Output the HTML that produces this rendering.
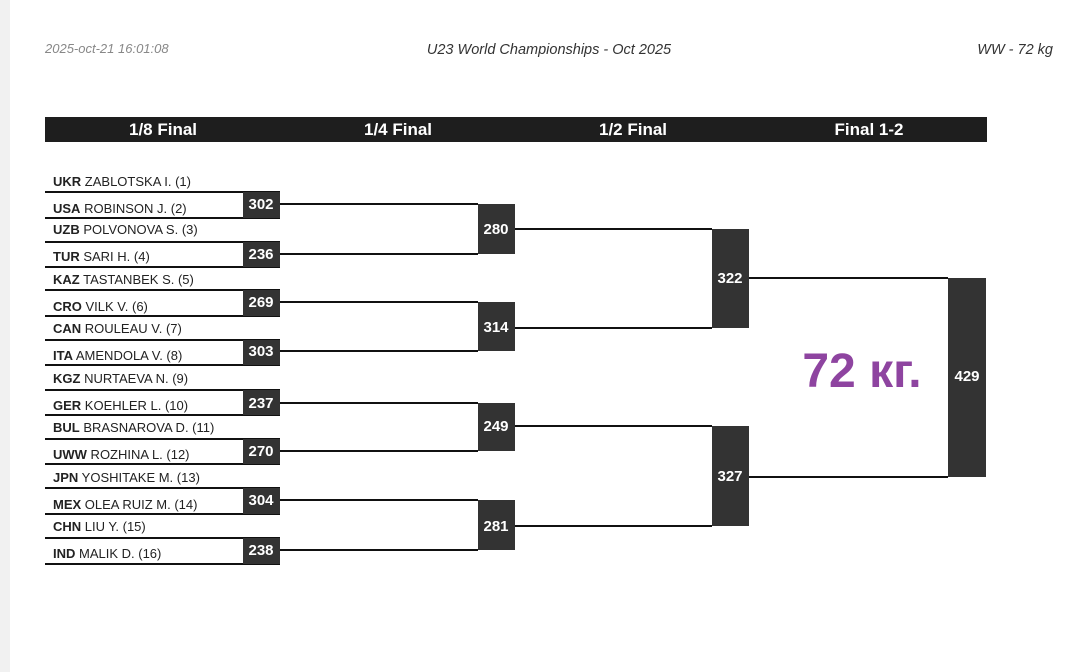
<!DOCTYPE html>
<html><head><meta charset="utf-8"><style>
html,body{margin:0;padding:0;background:#fff;}
svg{display:block;}
text{font-family:"Liberation Sans",sans-serif;}
</style></head><body>
<svg width="1079" height="672" viewBox="0 0 1079 672" xmlns="http://www.w3.org/2000/svg">
<rect x="0" y="0" width="1079" height="672" fill="#fff"/>
<rect x="0" y="0" width="10" height="672" fill="#f1f1f1"/>
<text x="45" y="53" font-size="13" font-style="italic" fill="#888">2025-oct-21 16:01:08</text>
<text x="549" y="54" font-size="14.5" font-style="italic" fill="#333" text-anchor="middle">U23 World Championships - Oct 2025</text>
<text x="1053" y="54" font-size="14.5" font-style="italic" fill="#333" text-anchor="end">WW - 72 kg</text>
<rect x="45" y="117" width="942" height="25" fill="#1e1e1e"/>
<g font-size="17" font-weight="bold" fill="#fff" text-anchor="middle">
<text x="163" y="135">1/8 Final</text><text x="398" y="135">1/4 Final</text><text x="633" y="135">1/2 Final</text><text x="869" y="135">Final 1-2</text>
</g>
<g font-size="13" fill="#222">
<text x="53" y="186"><tspan font-weight="bold">UKR</tspan> ZABLOTSKA I. (1)</text>
<text x="53" y="213"><tspan font-weight="bold">USA</tspan> ROBINSON J. (2)</text>
<text x="53" y="234"><tspan font-weight="bold">UZB</tspan> POLVONOVA S. (3)</text>
<text x="53" y="261"><tspan font-weight="bold">TUR</tspan> SARI H. (4)</text>
<text x="53" y="284"><tspan font-weight="bold">KAZ</tspan> TASTANBEK S. (5)</text>
<text x="53" y="311"><tspan font-weight="bold">CRO</tspan> VILK V. (6)</text>
<text x="53" y="333"><tspan font-weight="bold">CAN</tspan> ROULEAU V. (7)</text>
<text x="53" y="360"><tspan font-weight="bold">ITA</tspan> AMENDOLA V. (8)</text>
<text x="53" y="383"><tspan font-weight="bold">KGZ</tspan> NURTAEVA N. (9)</text>
<text x="53" y="410"><tspan font-weight="bold">GER</tspan> KOEHLER L. (10)</text>
<text x="53" y="432"><tspan font-weight="bold">BUL</tspan> BRASNAROVA D. (11)</text>
<text x="53" y="459"><tspan font-weight="bold">UWW</tspan> ROZHINA L. (12)</text>
<text x="53" y="482"><tspan font-weight="bold">JPN</tspan> YOSHITAKE M. (13)</text>
<text x="53" y="509"><tspan font-weight="bold">MEX</tspan> OLEA RUIZ M. (14)</text>
<text x="53" y="531"><tspan font-weight="bold">CHN</tspan> LIU Y. (15)</text>
<text x="53" y="558"><tspan font-weight="bold">IND</tspan> MALIK D. (16)</text>
</g>
<g stroke="#111" stroke-width="2" fill="none">
<path d="M45 192H280M45 218H280M45 242H280M45 267H280M45 290H280M45 316H280M45 340H280M45 365H280M45 390H280M45 415H280M45 439H280M45 464H280M45 488H280M45 514H280M45 538H280M45 564H280"/>
<path d="M280 204H478M280 254H478M280 302H478M280 351H478M280 403H478M280 451H478M280 500H478M280 550H478"/>
<path d="M515 229H712M515 328H712M515 426H712M515 526H712"/>
<path d="M749 278H948M749 477H948"/>
</g>
<g fill="#333">
<rect x="243" y="192" width="37" height="26"/><rect x="243" y="242" width="37" height="25"/>
<rect x="243" y="290" width="37" height="26"/><rect x="243" y="340" width="37" height="25"/>
<rect x="243" y="390" width="37" height="25"/><rect x="243" y="439" width="37" height="25"/>
<rect x="243" y="488" width="37" height="26"/><rect x="243" y="538" width="37" height="26"/>
<rect x="478" y="204" width="37" height="50"/><rect x="478" y="302" width="37" height="49"/>
<rect x="478" y="403" width="37" height="48"/><rect x="478" y="500" width="37" height="50"/>
<rect x="712" y="229" width="37" height="99"/><rect x="712" y="426" width="37" height="100"/>
<rect x="948" y="278" width="38" height="199"/>
</g>
<g font-size="15" font-weight="bold" fill="#fff" text-anchor="middle">
<text x="261" y="209">302</text><text x="261" y="259">236</text><text x="261" y="307">269</text><text x="261" y="356">303</text>
<text x="261" y="408">237</text><text x="261" y="456">270</text><text x="261" y="505">304</text><text x="261" y="555">238</text>
<text x="496" y="234">280</text><text x="496" y="332">314</text><text x="496" y="431">249</text><text x="496" y="531">281</text>
<text x="730" y="283">322</text><text x="730" y="481">327</text>
<text x="967" y="381">429</text>
</g>
<text x="862" y="387" font-size="48" font-weight="bold" fill="#8e44a0" text-anchor="middle" style="font-family:'Liberation Sans','DejaVu Sans',sans-serif">72 кг.</text>
</svg>
</body></html>
